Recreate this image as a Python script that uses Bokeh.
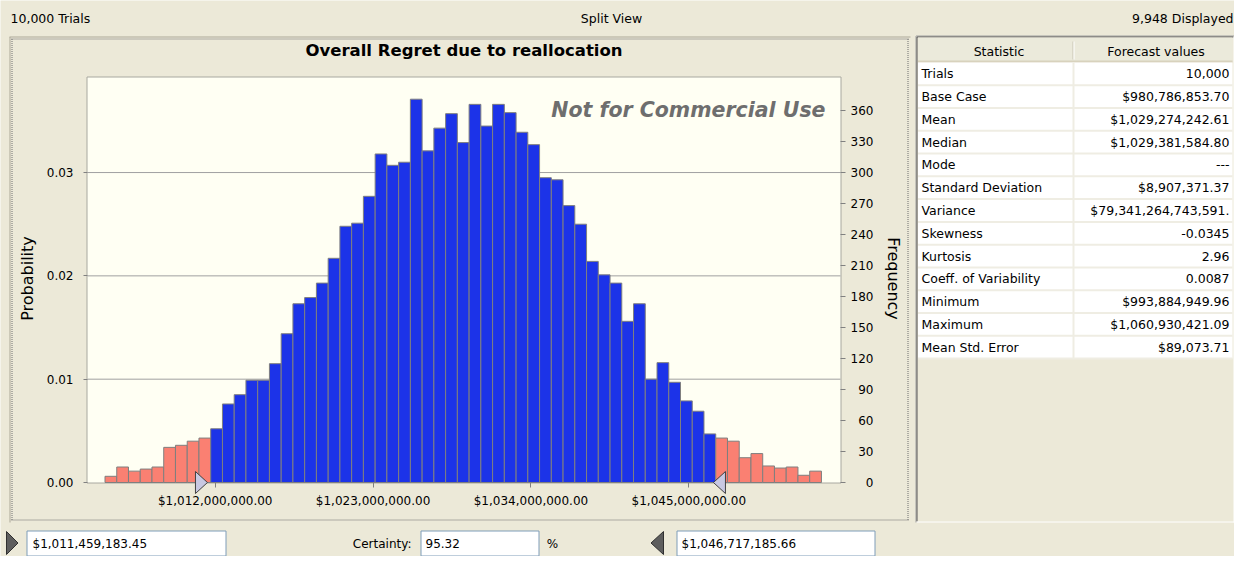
import numpy as np
from bokeh.plotting import figure
from bokeh.models import (Range1d, LinearAxis, FixedTicker, NumeralTickFormatter,
                          CustomJSTickFormatter, ColumnDataSource)
from bokeh.embed import file_html
from bokeh.resources import INLINE
from bokeh.core.properties import value

# ---------------- data ----------------
total_trials = 10000
displayed_trials = 9948
chart_title = "Overall Regret due to reallocation"
bin_start = 1004.32e6
bin_width = 0.8184e6
frequencies = [6, 15, 11, 13, 15, 34, 36, 40, 43,
               52, 76, 85, 99, 99, 115, 144, 173, 179, 193, 217, 248, 251, 277, 318, 307, 310,
               371, 321, 343, 357, 329,
               366, 345, 366, 358, 339, 327, 295, 293, 268, 250, 214, 201, 193, 156, 173, 100,
               116, 97, 79, 69, 47,
               43, 40, 24, 28, 16, 14, 15, 7, 11]
certainty_lower = 1011459183.45
certainty_upper = 1046717185.66
certainty_pct = 95.32
x_ticks = [1012e6, 1023e6, 1034e6, 1045e6]
prob_ticks = [0.0, 0.01, 0.02, 0.03]
freq_ticks = [0, 30, 60, 90, 120, 150, 180, 210, 240, 270, 300, 330, 360]
x_lo, x_hi = 1003.10e6, 1055.57e6
freq_max = 392
stat_names = ["Trials", "Base Case", "Mean", "Median", "Mode", "Standard Deviation", "Variance",
              "Skewness", "Kurtosis", "Coeff. of Variability", "Minimum", "Maximum", "Mean Std. Error"]
stat_values = ["10,000", "$980,786,853.70", "$1,029,274,242.61", "$1,029,381,584.80", "---",
               "$8,907,371.37", "$79,341,264,743,591.", "-0.0345", "2.96", "0.0087",
               "$993,884,949.96", "$1,060,930,421.09", "$89,073.71"]

# ---------------- style / layout (window pixel coordinates) ----------------
BG = "#ECE9D8"
FONT = "DejaVu Sans"
BLUE = "#1C33E8"
SALMON = "#FA8072"
CX0, CX1, CY0, CY1 = 8, 1242, 8, 564          # visible canvas region
FX0, FX1, FY0, FY1 = 95, 848, 85, 490         # histogram plot area

f = figure(width=CX1 - CX0, height=CY1 - CY0, x_range=Range1d(CX0, CX1), y_range=Range1d(CY1, CY0),
           output_backend="svg", toolbar_location=None, x_axis_type=None, y_axis_type=None,
           min_border=0, background_fill_color=BG, border_fill_color=BG, outline_line_color=None)

# histogram scales (mapped onto the plot area)
dx = (x_hi - x_lo) / (FX1 - FX0)
dyf = freq_max / (FY1 - FY0)
f.extra_x_ranges = {"hx": Range1d(x_lo - (FX0 - CX0) * dx, x_hi + (CX1 - FX1) * dx)}
fy_start = -(CY1 - FY1) * dyf
fy_end = freq_max + (FY0 - CY0) * dyf
f.extra_y_ranges = {"freq": Range1d(fy_start, fy_end),
                    "prob": Range1d(fy_start / total_trials, fy_end / total_trials)}


def txt(x, y, s, align="left", size="12.5px", color="#000000", style="normal", **kw):
    f.text(x=[x], y=[y], text=[s], text_align=align, text_baseline="middle",
           text_font=value(FONT), text_font_size=value(size), text_color=color,
           text_font_style=style, **kw)


# ---------------- header ----------------
txt(18, 25.5, f"{total_trials:,} Trials")
txt(619, 25.5, "Split View", align="center")
txt(1241, 25.5, f"{displayed_trials:,} Displayed", align="right")

# ---------------- chart panel border (sunken dotted) ----------------
DOT = "#6E6E6E"
LIGHT = "#ACA899"
f.segment(x0=[17, 17.5], y0=[44.5, 44.5], x1=[918, 17.5], y1=[44.5, 530], line_color=LIGHT, line_width=1)
f.segment(x0=[19, 19, 19.5, 915.5], y0=[46.5, 527.5, 46.5, 46.5], x1=[916, 916, 19.5, 915.5],
          y1=[46.5, 527.5, 527.5, 527.5], line_color=DOT, line_width=1, line_dash="1 1")

# title and plot area
txt((FX0 + FX1) / 2, 58, chart_title, align="center", size="16.5px", style="bold")
f.quad(left=[FX0 - 0.5], right=[FX1 + 0.5], top=[FY0 - 0.5], bottom=[FY1 + 0.5],
       fill_color="#FFFFF3", line_color="#A8A8A0", line_width=1)

# gridlines (probability ticks)
f.segment(x0=[x_lo] * 3, x1=[x_hi] * 3, y0=prob_ticks[1:], y1=prob_ticks[1:],
          x_range_name="hx", y_range_name="prob", line_color="#A0A0A0", line_width=1)

# bars
edges = bin_start + bin_width * np.arange(len(frequencies) + 1)
centers = (edges[:-1] + edges[1:]) / 2
colors = [BLUE if certainty_lower <= c <= certainty_upper else SALMON for c in centers]
src = ColumnDataSource(dict(left=edges[:-1], right=edges[1:], top=frequencies, color=colors))
f.quad(left="left", right="right", bottom=0, top="top", fill_color="color",
       line_color="#7F7F7F", line_width=1, x_range_name="hx", y_range_name="freq", source=src)

# watermark
txt(833, 117, "Not for Commercial Use", align="right", size="20.5px", color="#6E6E6E", style="bold italic")

# certainty grabbers (tip at the certainty bounds)
f.patch(x=[certainty_lower - 12 * dx, certainty_lower - 12 * dx, certainty_lower], y=[479, 501, 490],
        x_range_name="hx", fill_color="#C8C8E2", line_color="#404040", line_width=1)
f.patch(x=[certainty_upper + 12 * dx, certainty_upper + 12 * dx, certainty_upper], y=[479, 501, 490],
        x_range_name="hx", fill_color="#C8C8E2", line_color="#404040", line_width=1)

# axes
xa = LinearAxis(x_range_name="hx", y_range_name="freq", fixed_location=0,
                ticker=FixedTicker(ticks=x_ticks), formatter=NumeralTickFormatter(format="$0,0.00"))
xa.major_tick_out = 5
xa.major_label_standoff = 6
f.add_layout(xa, "below")

ya = LinearAxis(x_range_name="hx", y_range_name="prob", fixed_location=x_lo,
                ticker=FixedTicker(ticks=prob_ticks), formatter=NumeralTickFormatter(format="0.00"),
                axis_label="Probability")
ya.axis_label_standoff = 7
ya.major_label_standoff = 10
ya.major_tick_out = 4
f.add_layout(ya, "left")

ra = LinearAxis(x_range_name="hx", y_range_name="freq", fixed_location=x_hi,
                ticker=FixedTicker(ticks=freq_ticks),
                formatter=CustomJSTickFormatter(code="return String(tick).padStart(3, '\\u2007');"),
                axis_label="Frequency")
ra.axis_label_standoff = 8
ra.major_label_standoff = 5
ra.major_tick_out = 5
f.add_layout(ra, "right")

for ax in (xa, ya, ra):
    ax.axis_line_color = None
    ax.major_tick_in = 0
    ax.major_tick_line_color = "#808080"
    ax.minor_tick_line_color = None
    ax.major_label_text_font = FONT
    ax.major_label_text_font_size = "12px"
    ax.major_label_text_color = "#000000"
    ax.axis_label_text_font = FONT
    ax.axis_label_text_font_size = "16px"
    ax.axis_label_text_font_style = "normal"
    ax.axis_label_text_color = "#000000"

# ---------------- statistics table ----------------
row_h = 22.77
top0 = 70.0
n = len(stat_names)
f.segment(x0=[923.5, 923.5], y0=[43.5, 43.5], x1=[923.5, 1242], y1=[530, 43.5], line_color="#A0A0A0")
f.segment(x0=[924.5, 924.5], y0=[44.5, 44.5], x1=[924.5, 1241], y1=[529, 44.5], line_color="#555555")
f.segment(x0=[1241.5, 924], y0=[44, 529.5], x1=[1241.5, 1242], y1=[530, 529.5], line_color="#FFFFFF")
f.quad(left=[925.5], right=[1240], top=[45], bottom=[70], fill_color="#EBEADB", line_color=None)
f.segment(x0=[925.5], y0=[69], x1=[1240], y1=[69], line_color="#D8D2BD", line_width=2)
f.segment(x0=[1080.5], y0=[49], x1=[1080.5], y1=[67], line_color="#C7C5B2")
f.segment(x0=[1081.5], y0=[49], x1=[1081.5], y1=[67], line_color="#FFFFFF")
txt(1006.5, 58.5, "Statistic", align="center")
txt(1163.5, 58.5, "Forecast values", align="center")
f.quad(left=[925.5], right=[1240], top=[top0], bottom=[top0 + n * row_h],
       fill_color="#FFFFFF", line_color=None)
bounds = [top0 + (i + 1) * row_h for i in range(n)]
f.segment(x0=[925.5] * n, y0=bounds, x1=[1240] * n, y1=bounds, line_color="#EFEDE3", line_width=2)
f.segment(x0=[1081], y0=[top0], x1=[1081], y1=[top0 + n * row_h], line_color="#EFEDE3", line_width=2)
ys = [top0 + (i + 0.5) * row_h for i in range(n)]
f.text(x=[929] * n, y=ys, text=stat_names, text_align="left", text_baseline="middle",
       text_font=value(FONT), text_font_size=value("12.5px"), text_color="#000000")
f.text(x=[1237] * n, y=ys, text=stat_values, text_align="right", text_baseline="middle",
       text_font=value(FONT), text_font_size=value("12.5px"), text_color="#000000")

# ---------------- footer (certainty controls) ----------------
f.patch(x=[14, 14, 25.5], y=[539, 562, 550.5], fill_color="#5E5E5E", line_color="#303030")
f.patch(x=[671, 671, 658.5], y=[539, 562, 550.5], fill_color="#5E5E5E", line_color="#303030")
f.quad(left=[34.5, 428.5, 684.5], right=[233.5, 546.5, 882.5], top=[538.5] * 3, bottom=[563.5] * 3,
       fill_color="#FFFFFF", line_color="#7F9DB9", line_width=1)
txt(40, 551, f"${certainty_lower:,.2f}", size="12px")
txt(419, 551, "Certainty:", align="right", size="12px")
txt(433, 551, f"{certainty_pct:.2f}", size="12px")
txt(560, 551, "%", align="center", size="12px")
txt(689, 551, f"${certainty_upper:,.2f}", size="12px")

open("out.html", "w").write(file_html(f, INLINE))
